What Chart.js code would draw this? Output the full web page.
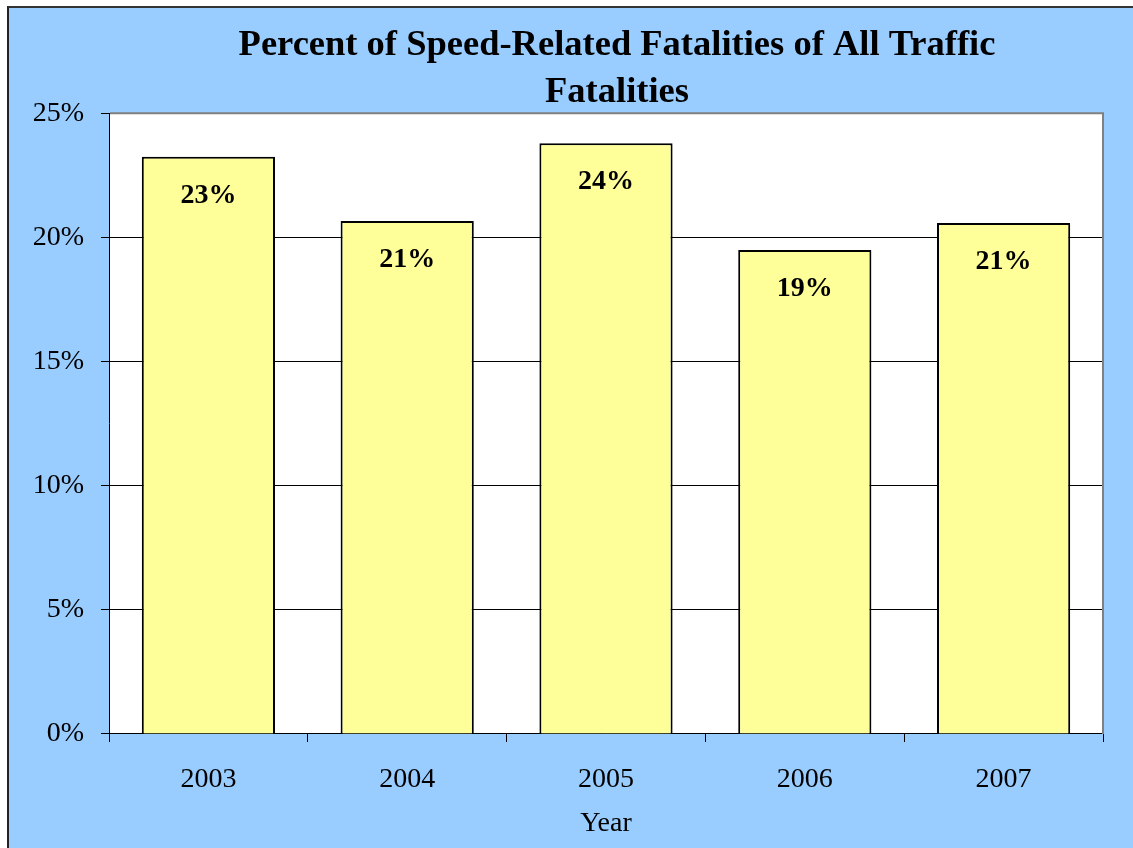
<!DOCTYPE html>
<html>
<head>
<meta charset="utf-8">
<script src="https://cdn.jsdelivr.net/npm/chart.js@4.4.1/dist/chart.umd.min.js"></script>
<style>
  html, body { margin: 0; background: #fff; overflow: hidden; }
  #frame {
    position: absolute; left: 7px; top: 6px;
    border-left: 2px solid #222; border-top: 2px solid #333;
    width: 1124px; height: 840px; overflow: hidden;
  }
  canvas { display: block; }
</style>
</head>
<body>
<div id="frame"><canvas id="myChart" width="1216" height="840"></canvas></div>
<script>
const years = ['2003', '2004', '2005', '2006', '2007'];
const percents = [23.25, 20.66, 23.79, 19.49, 20.58];
const barLabels = ['23%', '21%', '24%', '19%', '21%'];
const yTicks = [0, 5, 10, 15, 20, 25];

const serif = "'Liberation Serif', 'Times New Roman', serif";

// blue backdrop, white plot area, gray top/right border, labels in bars
const chartDecor = {
  id: 'chartDecor',
  beforeDraw(chart) {
    const ctx = chart.ctx, a = chart.chartArea;
    ctx.save();
    ctx.fillStyle = '#99CCFF';
    ctx.fillRect(0, 0, chart.width, chart.height);
    ctx.fillStyle = '#FFFFFF';
    ctx.fillRect(a.left, a.top, a.right - a.left, a.bottom - a.top);
    ctx.restore();
  },
  afterDraw(chart) {
    const ctx = chart.ctx, a = chart.chartArea;
    ctx.save();
    ctx.strokeStyle = '#808080';
    ctx.lineWidth = 2;
    ctx.beginPath();
    ctx.moveTo(a.left + 1, a.top);
    ctx.lineTo(a.right, a.top);
    ctx.lineTo(a.right, a.bottom);
    ctx.stroke();

    ctx.fillStyle = '#000';
    ctx.font = 'bold 28px ' + serif;
    ctx.textAlign = 'center';
    ctx.textBaseline = 'alphabetic';
    chart.getDatasetMeta(0).data.forEach((bar, i) => {
      ctx.fillText(barLabels[i], bar.x, bar.y + 46);
    });
    ctx.restore();
  }
};

// canvas is wider than the visible frame so the title centre sits where the original has it
new Chart(document.getElementById('myChart'), {
  type: 'bar',
  data: {
    labels: years,
    datasets: [{
      data: percents,
      backgroundColor: '#FFFF99',
      borderColor: '#000000',
      borderWidth: 2,
      barPercentage: 0.67,
      categoryPercentage: 1.0
    }]
  },
  options: {
    responsive: false,
    animation: false,
    layout: { padding: 0 },
    plugins: {
      legend: { display: false },
      tooltip: { enabled: false },
      title: {
        display: true,
        text: ['Percent of Speed-Related Fatalities of All Traffic', 'Fatalities'],
        color: '#000',
        font: { family: serif, size: 36.5, weight: 'bold', lineHeight: 1.29 },
        padding: { top: 14, bottom: -3 }
      }
    },
    scales: {
      x: {
        grid: {
          offset: true,
          drawOnChartArea: false,
          color: '#000',
          tickLength: 8
        },
        border: { color: '#000', width: 1 },
        ticks: {
          color: '#000',
          padding: 21,
          font: { family: serif, size: 28 }
        },
        title: {
          display: true,
          text: 'Year',
          color: '#000',
          font: { family: serif, size: 28 },
          padding: { top: 0, bottom: 8 }
        },
        afterFit(scale) { scale.height = 114; }
      },
      y: {
        min: 0,
        max: 25,
        afterBuildTicks(scale) { scale.ticks = yTicks.map(v => ({ value: v })); },
        grid: { color: '#000', lineWidth: 1, tickLength: 8 },
        border: { color: '#000', width: 1 },
        ticks: {
          color: '#000',
          padding: 17,
          font: { family: serif, size: 28 },
          callback: v => v + '%'
        },
        afterFit(scale) { scale.width = 100; }
      },
      yRight: {
        type: 'linear',
        position: 'right',
        display: true,
        grid: { display: false },
        border: { display: false },
        ticks: { display: false },
        afterFit(scale) { scale.width = 122; }
      }
    }
  },
  plugins: [chartDecor]
});
</script>
</body>
</html>
